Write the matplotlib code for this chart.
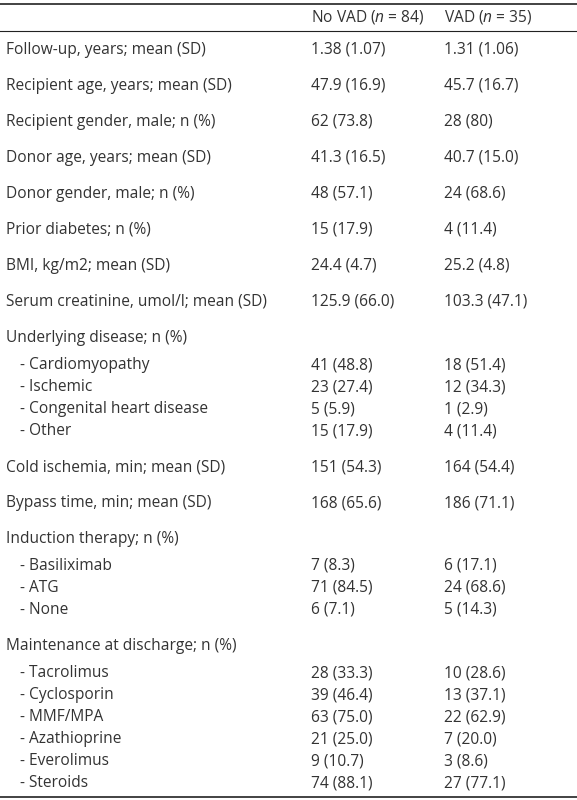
import matplotlib
matplotlib.use("Agg")
import matplotlib.pyplot as plt

labels = ["Follow-up, years; mean (SD)", "Recipient age, years; mean (SD)",
          "Recipient gender, male; n (%)", "Donor age, years; mean (SD)",
          "Donor gender, male; n (%)", "Prior diabetes; n (%)", "BMI, kg/m2; mean (SD)",
          "Serum creatinine, umol/l; mean (SD)", "Underlying disease; n (%)",
          "- Cardiomyopathy", "- Ischemic", "- Congenital heart disease", "- Other",
          "Cold ischemia, min; mean (SD)", "Bypass time, min; mean (SD)",
          "Induction therapy; n (%)", "- Basiliximab", "- ATG", "- None",
          "Maintenance at discharge; n (%)", "- Tacrolimus", "- Cyclosporin",
          "- MMF/MPA", "- Azathioprine", "- Everolimus", "- Steroids"]
novad = ["1.38 (1.07)", "47.9 (16.9)", "62 (73.8)", "41.3 (16.5)", "48 (57.1)",
         "15 (17.9)", "24.4 (4.7)", "125.9 (66.0)", "", "41 (48.8)", "23 (27.4)",
         "5 (5.9)", "15 (17.9)", "151 (54.3)", "168 (65.6)", "", "7 (8.3)",
         "71 (84.5)", "6 (7.1)", "", "28 (33.3)", "39 (46.4)", "63 (75.0)",
         "21 (25.0)", "9 (10.7)", "74 (88.1)"]
vad = ["1.31 (1.06)", "45.7 (16.7)", "28 (80)", "40.7 (15.0)", "24 (68.6)",
       "4 (11.4)", "25.2 (4.8)", "103.3 (47.1)", "", "18 (51.4)", "12 (34.3)",
       "1 (2.9)", "4 (11.4)", "164 (54.4)", "186 (71.1)", "", "6 (17.1)",
       "24 (68.6)", "5 (14.3)", "", "10 (28.6)", "13 (37.1)", "22 (62.9)",
       "7 (20.0)", "3 (8.6)", "27 (77.1)"]

plt.rcParams['font.family'] = ['Open Sans', 'DejaVu Sans']
plt.rcParams['mathtext.fontset'] = 'custom'
plt.rcParams['mathtext.it'] = 'Open Sans:italic'
plt.rcParams['mathtext.rm'] = 'Open Sans'

fig = plt.figure(figsize=(5.77, 8), dpi=100)
ax = fig.add_axes([0, 0, 1, 1])
ax.set_xlim(0, 577); ax.set_ylim(800, 0); ax.axis("off")
col = "#333333"
fs = 11.2

ys = []
y = 50
prev = None
for lab in labels:
    if prev is not None:
        if lab.startswith("-"):
            y += 22 if prev.startswith("-") else 27
        else:
            y += 36
    ys.append(y)
    prev = lab

ax.plot([0, 577], [4, 4], color="#222", lw=1.2)
ax.plot([0, 577], [31, 31], color="#222", lw=0.8)
ax.plot([0, 577], [ys[-1] + 14, ys[-1] + 14], color="#222", lw=1.2)

ax.text(311, 17, r"No VAD ($\it{n}$ = 84)", fontsize=fs, color=col, va="center")
ax.text(444, 17, r"VAD ($\it{n}$ = 35)", fontsize=fs, color=col, va="center")

for lab, a, b, yy in zip(labels, novad, vad, ys):
    x0 = 20 if lab.startswith("-") else 6
    ax.text(x0, yy, lab, fontsize=fs, color=col, va="center")
    ax.text(311, yy, a, fontsize=fs, color=col, va="center")
    ax.text(444, yy, b, fontsize=fs, color=col, va="center")

fig.savefig("out.png", dpi=100)
